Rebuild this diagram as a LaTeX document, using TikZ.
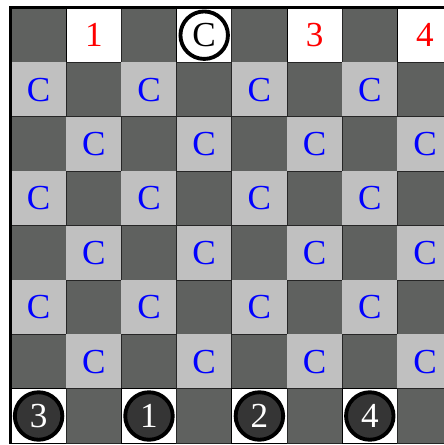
\documentclass[tikz,border=0pt]{standalone}
\usepackage{fontspec}
\setmainfont{Liberation Serif}
\definecolor{boardDark}{HTML}{5F615F}
\definecolor{boardLight}{HTML}{C0C0C0}
\definecolor{stoneGrey}{HTML}{353535}
\begin{document}
\begin{tikzpicture}[x=1.104cm, y=-1.088cm, every node/.style={font=\fontsize{20}{24}\selectfont},
    cell/.style={inner sep=0pt, minimum width=1.104cm, minimum height=1.088cm},
    darkcell/.style={cell, fill=boardDark, draw=black!85, line width=0.5pt},
    lightcell/.style={cell, fill=boardLight, text=blue},
    whitecell/.style={cell, fill=white, draw=black, line width=0.5pt},
    piece/.style={circle, draw=black, line width=2.2pt, minimum size=0.95cm, inner sep=0pt}]
    \useasboundingbox (-0.199,-0.147) rectangle (7.844,8.033);
    \clip (-0.199,-0.147) rectangle (7.844,8.033);
    % board
    \foreach \r in {1,...,8}
        \foreach \c in {1,...,8} {
            \pgfmathtruncatemacro{\s}{\r+\c}
            \ifodd\s
                \ifnum\r=1 \node[whitecell] (sq-\r-\c) at (\c-0.5,\r-0.5) {};
                \else\ifnum\r=8 \node[whitecell] (sq-\r-\c) at (\c-0.5,\r-0.5) {};
                \else \node[lightcell] (sq-\r-\c) at (\c-0.5,\r-0.5) {C};
                \fi\fi
            \else
                \node[darkcell] (sq-\r-\c) at (\c-0.5,\r-0.5) {};
            \fi
        }
    \draw[line width=1.3pt] (sq-8-1.south west) -- (sq-1-1.north west) -- (sq-1-8.north east);
    % top row
    \node[text=red] (n1) at (sq-1-2) {1};
    \node[piece, fill=white] (king) at (sq-1-4) {C};
    \node[text=red] (n3) at (sq-1-6) {3};
    \node[text=red] (n4) at (sq-1-8) {4};
    % bottom row
    \foreach \c/\t in {1/3, 3/1, 5/2, 7/4}
        \node[piece, fill=stoneGrey, text=white] (p\t) at (sq-8-\c) {\t};
\end{tikzpicture}
\end{document}
